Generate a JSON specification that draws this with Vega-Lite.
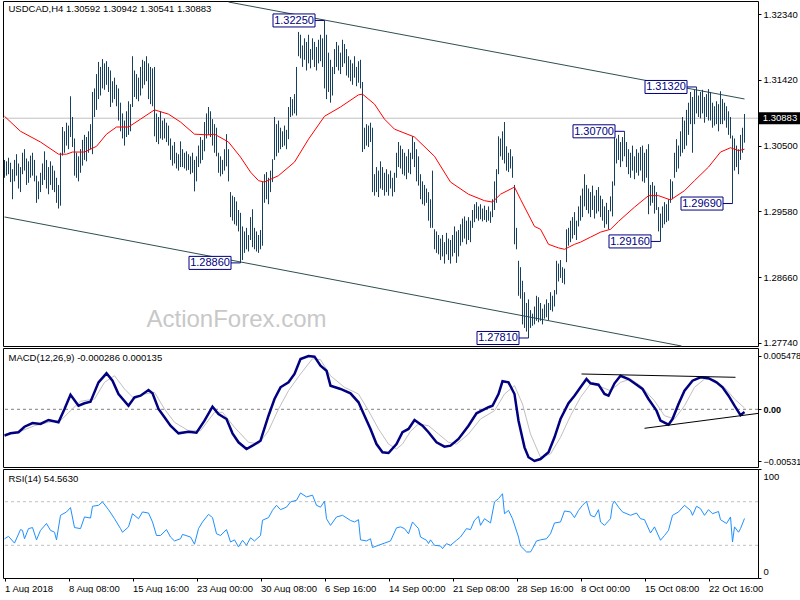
{
"$schema":"https://vega.github.io/schema/vega-lite/v6.json",
"padding":{"left":-1,"top":-1,"right":0,"bottom":0},
"background":"white",
"spacing":2,
"bounds":"flush",
"config":{"view":{"stroke":"black","strokeWidth":1},"axis":{"labelFont":"Liberation Sans","labelFontSize":9.5,"labelColor":"black","domain":false,"grid":false,"tickColor":"black","tickSize":3,"labelPadding":2}},
"datasets":{
"bars":[{"i":0,"h":1.303,"l":1.3005},{"i":1,"h":1.3028,"l":1.3008},{"i":2,"h":1.3033,"l":1.301},{"i":3,"h":1.3026,"l":1.2999},{"i":4,"h":1.3017,"l":1.2975},{"i":5,"h":1.303,"l":1.3},{"i":6,"h":1.3038,"l":1.3008},{"i":7,"h":1.3025,"l":1.299},{"i":8,"h":1.302,"l":1.2985},{"i":9,"h":1.304,"l":1.301},{"i":10,"h":1.3045,"l":1.3015},{"i":11,"h":1.3032,"l":1.2995},{"i":12,"h":1.3028,"l":1.2998},{"i":13,"h":1.3036,"l":1.3005},{"i":14,"h":1.304,"l":1.3008},{"i":15,"h":1.303,"l":1.3},{"i":16,"h":1.3008,"l":1.297},{"i":17,"h":1.3,"l":1.2975},{"i":18,"h":1.3012,"l":1.2985},{"i":19,"h":1.3025,"l":1.2995},{"i":20,"h":1.3042,"l":1.3002},{"i":21,"h":1.303,"l":1.299},{"i":22,"h":1.302,"l":1.2982},{"i":23,"h":1.3028,"l":1.2995},{"i":24,"h":1.3022,"l":1.2988},{"i":25,"h":1.3015,"l":1.2985},{"i":26,"h":1.3005,"l":1.297},{"i":27,"h":1.2995,"l":1.2962},{"i":28,"h":1.304,"l":1.2966},{"i":29,"h":1.3076,"l":1.3036},{"i":30,"h":1.307,"l":1.304},{"i":31,"h":1.3082,"l":1.305},{"i":32,"h":1.3078,"l":1.3045},{"i":33,"h":1.3119,"l":1.3062},{"i":34,"h":1.309,"l":1.3048},{"i":35,"h":1.306,"l":1.3008},{"i":36,"h":1.304,"l":1.3005},{"i":37,"h":1.3035,"l":1.3},{"i":38,"h":1.3045,"l":1.3012},{"i":39,"h":1.3058,"l":1.3022},{"i":40,"h":1.3065,"l":1.303},{"i":41,"h":1.3062,"l":1.3028},{"i":42,"h":1.307,"l":1.304},{"i":43,"h":1.308,"l":1.3045},{"i":44,"h":1.3125,"l":1.3038},{"i":45,"h":1.313,"l":1.309},{"i":46,"h":1.315,"l":1.31},{"i":47,"h":1.3167,"l":1.3115},{"i":48,"h":1.316,"l":1.312},{"i":49,"h":1.3171,"l":1.313},{"i":50,"h":1.3165,"l":1.3128},{"i":51,"h":1.3168,"l":1.3135},{"i":52,"h":1.316,"l":1.3125},{"i":53,"h":1.3155,"l":1.3104},{"i":54,"h":1.314,"l":1.311},{"i":55,"h":1.3145,"l":1.3115},{"i":56,"h":1.3135,"l":1.3105},{"i":57,"h":1.313,"l":1.3085},{"i":58,"h":1.311,"l":1.307},{"i":59,"h":1.3095,"l":1.306},{"i":60,"h":1.3085,"l":1.305},{"i":61,"h":1.3098,"l":1.3062},{"i":62,"h":1.3112,"l":1.3065},{"i":63,"h":1.3108,"l":1.307},{"i":64,"h":1.3175,"l":1.3104},{"i":65,"h":1.3155,"l":1.3118},{"i":66,"h":1.315,"l":1.3115},{"i":67,"h":1.3145,"l":1.3112},{"i":68,"h":1.316,"l":1.312},{"i":69,"h":1.317,"l":1.313},{"i":70,"h":1.3168,"l":1.3135},{"i":71,"h":1.3175,"l":1.314},{"i":72,"h":1.3165,"l":1.3115},{"i":73,"h":1.316,"l":1.3108},{"i":74,"h":1.3158,"l":1.3105},{"i":75,"h":1.316,"l":1.3063},{"i":76,"h":1.3095,"l":1.3055},{"i":77,"h":1.309,"l":1.3052},{"i":78,"h":1.3098,"l":1.306},{"i":79,"h":1.3085,"l":1.3058},{"i":80,"h":1.3088,"l":1.306},{"i":81,"h":1.3082,"l":1.3055},{"i":82,"h":1.3078,"l":1.305},{"i":83,"h":1.306,"l":1.303},{"i":84,"h":1.305,"l":1.3022},{"i":85,"h":1.3055,"l":1.3025},{"i":86,"h":1.304,"l":1.3018},{"i":87,"h":1.3038,"l":1.3015},{"i":88,"h":1.3056,"l":1.302},{"i":89,"h":1.3045,"l":1.302},{"i":90,"h":1.304,"l":1.3018},{"i":91,"h":1.3042,"l":1.3015},{"i":92,"h":1.3038,"l":1.3016},{"i":93,"h":1.3035,"l":1.301},{"i":94,"h":1.304,"l":1.3012},{"i":95,"h":1.303,"l":1.2986},{"i":96,"h":1.3035,"l":1.3},{"i":97,"h":1.305,"l":1.302},{"i":98,"h":1.3062,"l":1.3025},{"i":99,"h":1.3058,"l":1.303},{"i":100,"h":1.3083,"l":1.3042},{"i":101,"h":1.3095,"l":1.306},{"i":102,"h":1.3104,"l":1.3065},{"i":103,"h":1.3098,"l":1.3062},{"i":104,"h":1.3087,"l":1.305},{"i":105,"h":1.308,"l":1.304},{"i":106,"h":1.3075,"l":1.3035},{"i":107,"h":1.304,"l":1.3012},{"i":108,"h":1.3035,"l":1.3007},{"i":109,"h":1.303,"l":1.301},{"i":110,"h":1.3045,"l":1.3015},{"i":111,"h":1.3066,"l":1.3021},{"i":112,"h":1.3045,"l":1.3},{"i":113,"h":1.2985,"l":1.295},{"i":114,"h":1.298,"l":1.2945},{"i":115,"h":1.2978,"l":1.294},{"i":116,"h":1.2972,"l":1.2938},{"i":117,"h":1.296,"l":1.293},{"i":118,"h":1.2956,"l":1.2886},{"i":119,"h":1.2937,"l":1.289},{"i":120,"h":1.293,"l":1.29},{"i":121,"h":1.2935,"l":1.2905},{"i":122,"h":1.2925,"l":1.2902},{"i":123,"h":1.295,"l":1.2918},{"i":124,"h":1.2961,"l":1.2908},{"i":125,"h":1.2935,"l":1.2905},{"i":126,"h":1.293,"l":1.2902},{"i":127,"h":1.2925,"l":1.29},{"i":128,"h":1.2932,"l":1.2905},{"i":129,"h":1.2999,"l":1.291},{"i":130,"h":1.301,"l":1.297},{"i":131,"h":1.3013,"l":1.2975},{"i":132,"h":1.3005,"l":1.2968},{"i":133,"h":1.3015,"l":1.2985},{"i":134,"h":1.3031,"l":1.2999},{"i":135,"h":1.309,"l":1.303},{"i":136,"h":1.308,"l":1.3035},{"i":137,"h":1.3085,"l":1.304},{"i":138,"h":1.3075,"l":1.3045},{"i":139,"h":1.307,"l":1.3048},{"i":140,"h":1.3078,"l":1.305},{"i":141,"h":1.3072,"l":1.3045},{"i":142,"h":1.3104,"l":1.3059},{"i":143,"h":1.3118,"l":1.309},{"i":144,"h":1.3115,"l":1.3092},{"i":145,"h":1.3122,"l":1.3095},{"i":146,"h":1.316,"l":1.3092},{"i":147,"h":1.3209,"l":1.3175},{"i":148,"h":1.3205,"l":1.3172},{"i":149,"h":1.319,"l":1.316},{"i":150,"h":1.32,"l":1.317},{"i":151,"h":1.3195,"l":1.3155},{"i":152,"h":1.3205,"l":1.3165},{"i":153,"h":1.3185,"l":1.3158},{"i":154,"h":1.32,"l":1.317},{"i":155,"h":1.3195,"l":1.316},{"i":156,"h":1.3188,"l":1.3155},{"i":157,"h":1.3198,"l":1.3165},{"i":158,"h":1.3205,"l":1.3168},{"i":159,"h":1.32,"l":1.316},{"i":160,"h":1.3225,"l":1.313},{"i":161,"h":1.3205,"l":1.3115},{"i":162,"h":1.318,"l":1.3125},{"i":163,"h":1.317,"l":1.311},{"i":164,"h":1.316,"l":1.312},{"i":165,"h":1.3185,"l":1.315},{"i":166,"h":1.3195,"l":1.316},{"i":167,"h":1.319,"l":1.3155},{"i":168,"h":1.318,"l":1.315},{"i":169,"h":1.3198,"l":1.316},{"i":170,"h":1.3192,"l":1.3165},{"i":171,"h":1.3185,"l":1.3148},{"i":172,"h":1.3175,"l":1.3145},{"i":173,"h":1.317,"l":1.314},{"i":174,"h":1.3165,"l":1.3135},{"i":175,"h":1.3175,"l":1.3145},{"i":176,"h":1.316,"l":1.3133},{"i":177,"h":1.3168,"l":1.3138},{"i":178,"h":1.317,"l":1.313},{"i":179,"h":1.3139,"l":1.3041},{"i":180,"h":1.3075,"l":1.3045},{"i":181,"h":1.308,"l":1.305},{"i":182,"h":1.3078,"l":1.3048},{"i":183,"h":1.3082,"l":1.3055},{"i":184,"h":1.3075,"l":1.2985},{"i":185,"h":1.301,"l":1.298},{"i":186,"h":1.302,"l":1.2985},{"i":187,"h":1.3015,"l":1.2978},{"i":188,"h":1.3028,"l":1.299},{"i":189,"h":1.302,"l":1.2988},{"i":190,"h":1.3012,"l":1.298},{"i":191,"h":1.3017,"l":1.2985},{"i":192,"h":1.301,"l":1.298},{"i":193,"h":1.3015,"l":1.299},{"i":194,"h":1.3005,"l":1.2979},{"i":195,"h":1.3012,"l":1.2985},{"i":196,"h":1.304,"l":1.3005},{"i":197,"h":1.3055,"l":1.302},{"i":198,"h":1.305,"l":1.3018},{"i":199,"h":1.3045,"l":1.301},{"i":200,"h":1.304,"l":1.3008},{"i":201,"h":1.3035,"l":1.3003},{"i":202,"h":1.3045,"l":1.3012},{"i":203,"h":1.304,"l":1.301},{"i":204,"h":1.3063,"l":1.3031},{"i":205,"h":1.3055,"l":1.302},{"i":206,"h":1.3045,"l":1.3},{"i":207,"h":1.3035,"l":1.2994},{"i":208,"h":1.301,"l":1.2975},{"i":209,"h":1.3,"l":1.2968},{"i":210,"h":1.2995,"l":1.2966},{"i":211,"h":1.299,"l":1.297},{"i":212,"h":1.2985,"l":1.2945},{"i":213,"h":1.2975,"l":1.2935},{"i":214,"h":1.3015,"l":1.2935},{"i":215,"h":1.2933,"l":1.2905},{"i":216,"h":1.293,"l":1.29},{"i":217,"h":1.2925,"l":1.2898},{"i":218,"h":1.292,"l":1.289},{"i":219,"h":1.2925,"l":1.2895},{"i":220,"h":1.2915,"l":1.2885},{"i":221,"h":1.2928,"l":1.2898},{"i":222,"h":1.292,"l":1.289},{"i":223,"h":1.2918,"l":1.2885},{"i":224,"h":1.2925,"l":1.2895},{"i":225,"h":1.2937,"l":1.29},{"i":226,"h":1.293,"l":1.2886},{"i":227,"h":1.2932,"l":1.2895},{"i":228,"h":1.294,"l":1.291},{"i":229,"h":1.2948,"l":1.2915},{"i":230,"h":1.2951,"l":1.292},{"i":231,"h":1.2945,"l":1.2912},{"i":232,"h":1.295,"l":1.2918},{"i":233,"h":1.2945,"l":1.2915},{"i":234,"h":1.296,"l":1.2935},{"i":235,"h":1.2968,"l":1.2943},{"i":236,"h":1.2971,"l":1.2948},{"i":237,"h":1.2965,"l":1.2945},{"i":238,"h":1.2968,"l":1.2947},{"i":239,"h":1.2962,"l":1.2944},{"i":240,"h":1.2966,"l":1.2946},{"i":241,"h":1.296,"l":1.2943},{"i":242,"h":1.2965,"l":1.2945},{"i":243,"h":1.2958,"l":1.2942},{"i":244,"h":1.2975,"l":1.295},{"i":245,"h":1.3,"l":1.296},{"i":246,"h":1.3017,"l":1.297},{"i":247,"h":1.3063,"l":1.301},{"i":248,"h":1.306,"l":1.3035},{"i":249,"h":1.307,"l":1.303},{"i":250,"h":1.3083,"l":1.3025},{"i":251,"h":1.3049,"l":1.3015},{"i":252,"h":1.304,"l":1.3013},{"i":253,"h":1.3045,"l":1.3018},{"i":254,"h":1.3035,"l":1.3005},{"i":255,"h":1.2995,"l":1.2912},{"i":256,"h":1.2935,"l":1.2905},{"i":257,"h":1.2889,"l":1.284},{"i":258,"h":1.288,"l":1.2836},{"i":259,"h":1.2861,"l":1.28},{"i":260,"h":1.2845,"l":1.2795},{"i":261,"h":1.283,"l":1.279},{"i":262,"h":1.2835,"l":1.2781},{"i":263,"h":1.282,"l":1.2795},{"i":264,"h":1.2815,"l":1.2798},{"i":265,"h":1.2825,"l":1.28},{"i":266,"h":1.284,"l":1.2805},{"i":267,"h":1.2838,"l":1.2803},{"i":268,"h":1.283,"l":1.2805},{"i":269,"h":1.2822,"l":1.28},{"i":270,"h":1.2828,"l":1.2808},{"i":271,"h":1.2835,"l":1.281},{"i":272,"h":1.283,"l":1.2806},{"i":273,"h":1.2845,"l":1.282},{"i":274,"h":1.284,"l":1.2818},{"i":275,"h":1.2848,"l":1.2825},{"i":276,"h":1.2889,"l":1.2842},{"i":277,"h":1.2885,"l":1.286},{"i":278,"h":1.289,"l":1.2865},{"i":279,"h":1.288,"l":1.2858},{"i":280,"h":1.2878,"l":1.2856},{"i":281,"h":1.2933,"l":1.2887},{"i":282,"h":1.2935,"l":1.291},{"i":283,"h":1.2945,"l":1.2915},{"i":284,"h":1.295,"l":1.292},{"i":285,"h":1.2957,"l":1.2925},{"i":286,"h":1.2945,"l":1.2918},{"i":287,"h":1.2965,"l":1.2937},{"i":288,"h":1.298,"l":1.2945},{"i":289,"h":1.299,"l":1.295},{"i":290,"h":1.301,"l":1.2965},{"i":291,"h":1.2995,"l":1.296},{"i":292,"h":1.299,"l":1.2955},{"i":293,"h":1.2985,"l":1.295},{"i":294,"h":1.2994,"l":1.296},{"i":295,"h":1.298,"l":1.2948},{"i":296,"h":1.2988,"l":1.2955},{"i":297,"h":1.2992,"l":1.2958},{"i":298,"h":1.298,"l":1.295},{"i":299,"h":1.2975,"l":1.2945},{"i":300,"h":1.2965,"l":1.2935},{"i":301,"h":1.297,"l":1.294},{"i":302,"h":1.296,"l":1.2933},{"i":303,"h":1.2979,"l":1.2958},{"i":304,"h":1.3,"l":1.2951},{"i":305,"h":1.3069,"l":1.2994},{"i":306,"h":1.306,"l":1.3025},{"i":307,"h":1.3065,"l":1.303},{"i":308,"h":1.3055,"l":1.302},{"i":309,"h":1.3062,"l":1.3028},{"i":310,"h":1.307,"l":1.3035},{"i":311,"h":1.3055,"l":1.302},{"i":312,"h":1.3045,"l":1.301},{"i":313,"h":1.304,"l":1.3005},{"i":314,"h":1.305,"l":1.3015},{"i":315,"h":1.3035,"l":1.3003},{"i":316,"h":1.3045,"l":1.3012},{"i":317,"h":1.304,"l":1.3008},{"i":318,"h":1.3048,"l":1.3015},{"i":319,"h":1.305,"l":1.3},{"i":320,"h":1.304,"l":1.2998},{"i":321,"h":1.3045,"l":1.3005},{"i":322,"h":1.3052,"l":1.2954},{"i":323,"h":1.2995,"l":1.2966},{"i":324,"h":1.2999,"l":1.297},{"i":325,"h":1.2994,"l":1.2955},{"i":326,"h":1.2985,"l":1.296},{"i":327,"h":1.2964,"l":1.293},{"i":328,"h":1.2955,"l":1.2916},{"i":329,"h":1.2965,"l":1.2935},{"i":330,"h":1.2971,"l":1.294},{"i":331,"h":1.2968,"l":1.2943},{"i":332,"h":1.2975,"l":1.2945},{"i":333,"h":1.3003,"l":1.297},{"i":334,"h":1.3,"l":1.2975},{"i":335,"h":1.304,"l":1.3005},{"i":336,"h":1.3059,"l":1.3013},{"i":337,"h":1.305,"l":1.3018},{"i":338,"h":1.307,"l":1.3035},{"i":339,"h":1.309,"l":1.304},{"i":340,"h":1.3085,"l":1.3045},{"i":341,"h":1.31,"l":1.305},{"i":342,"h":1.311,"l":1.3065},{"i":343,"h":1.3125,"l":1.308},{"i":344,"h":1.3118,"l":1.304},{"i":345,"h":1.3128,"l":1.308},{"i":346,"h":1.3132,"l":1.3095},{"i":347,"h":1.312,"l":1.309},{"i":348,"h":1.3125,"l":1.3088},{"i":349,"h":1.3128,"l":1.3095},{"i":350,"h":1.3118,"l":1.3082},{"i":351,"h":1.3122,"l":1.309},{"i":352,"h":1.3129,"l":1.3085},{"i":353,"h":1.3125,"l":1.3085},{"i":354,"h":1.311,"l":1.3075},{"i":355,"h":1.3105,"l":1.3078},{"i":356,"h":1.3112,"l":1.308},{"i":357,"h":1.3108,"l":1.307},{"i":358,"h":1.3126,"l":1.308},{"i":359,"h":1.3115,"l":1.308},{"i":360,"h":1.311,"l":1.3085},{"i":361,"h":1.3105,"l":1.3075},{"i":362,"h":1.3098,"l":1.3065},{"i":363,"h":1.309,"l":1.306},{"i":364,"h":1.3064,"l":1.2969},{"i":365,"h":1.306,"l":1.3015},{"i":366,"h":1.305,"l":1.302},{"i":367,"h":1.3045,"l":1.301},{"i":368,"h":1.3065,"l":1.303},{"i":369,"h":1.3075,"l":1.304},{"i":370,"h":1.30942,"l":1.30541}],
"ma":[{"i":0,"p":1.3091},{"i":8,"p":1.307},{"i":18,"p":1.3055},{"i":27,"p":1.3038},{"i":31,"p":1.3038},{"i":34,"p":1.3041},{"i":40,"p":1.3041},{"i":46,"p":1.3049},{"i":51,"p":1.3066},{"i":56,"p":1.3076},{"i":62,"p":1.3076},{"i":68,"p":1.3087},{"i":75,"p":1.31},{"i":82,"p":1.3094},{"i":88,"p":1.3083},{"i":95,"p":1.3066},{"i":102,"p":1.3065},{"i":105,"p":1.3066},{"i":112,"p":1.3055},{"i":118,"p":1.3034},{"i":123,"p":1.3013},{"i":127,"p":1.3001},{"i":130,"p":1.2999},{"i":137,"p":1.3008},{"i":145,"p":1.3027},{"i":152,"p":1.3059},{"i":160,"p":1.3091},{"i":168,"p":1.3104},{"i":177,"p":1.3121},{"i":179,"p":1.3122},{"i":185,"p":1.3108},{"i":190,"p":1.3087},{"i":195,"p":1.3073},{"i":205,"p":1.3062},{"i":215,"p":1.3035},{"i":223,"p":1.2999},{"i":232,"p":1.2982},{"i":240,"p":1.2973},{"i":244,"p":1.2971},{"i":248,"p":1.2982},{"i":255,"p":1.2992},{"i":258,"p":1.2975},{"i":265,"p":1.2937},{"i":268,"p":1.2933},{"i":272,"p":1.2912},{"i":277,"p":1.2907},{"i":280,"p":1.2905},{"i":285,"p":1.2912},{"i":288,"p":1.2915},{"i":293,"p":1.2922},{"i":298,"p":1.2929},{"i":303,"p":1.2933},{"i":307,"p":1.2944},{"i":315,"p":1.2964},{"i":322,"p":1.298},{"i":327,"p":1.298},{"i":333,"p":1.2974},{"i":340,"p":1.2987},{"i":345,"p":1.3001},{"i":352,"p":1.302},{"i":358,"p":1.3041},{"i":363,"p":1.3047},{"i":367,"p":1.3043},{"i":370,"p":1.3045}],
"ch":[{"i":112,"p":1.32508,"g":"u"},{"i":370,"p":1.31152,"g":"u"},{"i":0,"p":1.29502,"g":"d"},{"i":338.5,"p":1.27698,"g":"d"}],
"lab":[{"i":160,"p":1.3225,"t":"1.32250"},{"i":346,"p":1.3132,"t":"1.31320"},{"i":310,"p":1.307,"t":"1.30700"},{"i":364,"p":1.2969,"t":"1.29690"},{"i":328,"p":1.2916,"t":"1.29160"},{"i":118,"p":1.2886,"t":"1.28860"},{"i":262,"p":1.2781,"t":"1.27810"}],
"macd":[{"i":0,"m":-0.00271},{"i":3,"m":-0.00247},{"i":7,"m":-0.00236},{"i":10,"m":-0.00179},{"i":14,"m":-0.00141},{"i":18,"m":-0.00151},{"i":22,"m":-0.0011},{"i":27,"m":-0.00134},{"i":30,"m":0.00003},{"i":33,"m":0.0015},{"i":37,"m":0.00037},{"i":40,"m":0.00062},{"i":43,"m":0.00078},{"i":47,"m":0.00277},{"i":51,"m":0.0037},{"i":54,"m":0.00294},{"i":57,"m":0.00157},{"i":62,"m":0.00037},{"i":65,"m":0.00123},{"i":68,"m":0.0014},{"i":72,"m":0.00198},{"i":74,"m":0.00164},{"i":77,"m":0.00003},{"i":80,"m":-0.00082},{"i":83,"m":-0.00169},{"i":87,"m":-0.00247},{"i":92,"m":-0.0023},{"i":96,"m":-0.0024},{"i":100,"m":-0.00117},{"i":104,"m":0.00027},{"i":107,"m":-0.00048},{"i":111,"m":-0.001},{"i":114,"m":-0.00247},{"i":117,"m":-0.00339},{"i":121,"m":-0.00408},{"i":124,"m":-0.00374},{"i":128,"m":-0.00323},{"i":132,"m":-0.00066},{"i":135,"m":0.00106},{"i":138,"m":0.00226},{"i":142,"m":0.00277},{"i":145,"m":0.00363},{"i":148,"m":0.00517},{"i":152,"m":0.00548},{"i":155,"m":0.00541},{"i":158,"m":0.00448},{"i":161,"m":0.00397},{"i":163,"m":0.00243},{"i":168,"m":0.00209},{"i":173,"m":0.00164},{"i":177,"m":0.00072},{"i":180,"m":-0.00066},{"i":183,"m":-0.00202},{"i":186,"m":-0.00357},{"i":189,"m":-0.00442},{"i":192,"m":-0.00449},{"i":196,"m":-0.00357},{"i":199,"m":-0.00236},{"i":202,"m":-0.00202},{"i":205,"m":-0.0011},{"i":209,"m":-0.00169},{"i":212,"m":-0.00236},{"i":216,"m":-0.00339},{"i":220,"m":-0.00384},{"i":223,"m":-0.00374},{"i":227,"m":-0.00305},{"i":232,"m":-0.00169},{"i":236,"m":-0.00041},{"i":242,"m":0.00021},{"i":244,"m":0.00037},{"i":247,"m":0.00157},{"i":249,"m":0.00288},{"i":252,"m":0.00277},{"i":255,"m":0.00157},{"i":257,"m":-0.00117},{"i":260,"m":-0.00391},{"i":262,"m":-0.00493},{"i":265,"m":-0.00531},{"i":268,"m":-0.00511},{"i":272,"m":-0.00442},{"i":275,"m":-0.00288},{"i":278,"m":-0.001},{"i":282,"m":0.00062},{"i":285,"m":0.0014},{"i":288,"m":0.00226},{"i":291,"m":0.00311},{"i":293,"m":0.00267},{"i":297,"m":0.00253},{"i":300,"m":0.00157},{"i":302,"m":0.0014},{"i":305,"m":0.00267},{"i":308,"m":0.00345},{"i":312,"m":0.00311},{"i":315,"m":0.00267},{"i":319,"m":0.00209},{"i":322,"m":0.00106},{"i":326,"m":-0.00014},{"i":328,"m":-0.00117},{"i":332,"m":-0.00158},{"i":334,"m":-0.001},{"i":337,"m":0.00054},{"i":340,"m":0.00191},{"i":344,"m":0.00294},{"i":348,"m":0.00329},{"i":352,"m":0.00319},{"i":356,"m":0.00277},{"i":359,"m":0.00226},{"i":362,"m":0.0014},{"i":365,"m":0.00037},{"i":368,"m":-0.0006},{"i":370,"m":-0.000286}],
"sig":[{"i":0,"s":-0.00254},{"i":8,"s":-0.00226},{"i":15,"s":-0.00169},{"i":22,"s":-0.00134},{"i":28,"s":-0.00117},{"i":33,"s":-0.00014},{"i":38,"s":0.00082},{"i":45,"s":0.00106},{"i":50,"s":0.00277},{"i":55,"s":0.00345},{"i":60,"s":0.00209},{"i":65,"s":0.00106},{"i":70,"s":0.00157},{"i":75,"s":0.00175},{"i":80,"s":0.00003},{"i":85,"s":-0.00134},{"i":92,"s":-0.0022},{"i":98,"s":-0.0022},{"i":105,"s":-0.00031},{"i":109,"s":-0.00031},{"i":115,"s":-0.00185},{"i":122,"s":-0.00339},{"i":127,"s":-0.00357},{"i":132,"s":-0.0022},{"i":137,"s":0.00003},{"i":142,"s":0.00191},{"i":148,"s":0.00363},{"i":154,"s":0.0052},{"i":158,"s":0.0051},{"i":163,"s":0.00345},{"i":170,"s":0.00226},{"i":177,"s":0.00157},{"i":182,"s":-0.00014},{"i":187,"s":-0.00202},{"i":192,"s":-0.00357},{"i":196,"s":-0.00408},{"i":199,"s":-0.00357},{"i":203,"s":-0.00226},{"i":207,"s":-0.00151},{"i":212,"s":-0.00169},{"i":217,"s":-0.00254},{"i":222,"s":-0.00339},{"i":226,"s":-0.00357},{"i":232,"s":-0.00254},{"i":238,"s":-0.001},{"i":245,"s":-0.00014},{"i":250,"s":0.00157},{"i":255,"s":0.00243},{"i":259,"s":0.00054},{"i":263,"s":-0.00254},{"i":268,"s":-0.00493},{"i":273,"s":-0.00459},{"i":278,"s":-0.00288},{"i":283,"s":-0.00066},{"i":288,"s":0.00123},{"i":293,"s":0.0026},{"i":298,"s":0.00232},{"i":303,"s":0.00191},{"i":308,"s":0.00277},{"i":313,"s":0.00311},{"i":318,"s":0.00243},{"i":325,"s":0.00088},{"i":330,"s":-0.00066},{"i":335,"s":-0.001},{"i":340,"s":0.00037},{"i":345,"s":0.00226},{"i":350,"s":0.00311},{"i":355,"s":0.00301},{"i":360,"s":0.00226},{"i":365,"s":0.00106},{"i":370,"s":0.000135}],
"mt":[{"i":288.5,"v":0.003628,"g":"a"},{"i":365.5,"v":0.003289,"g":"a"},{"i":320,"v":-0.001953,"g":"b"},{"i":376.75,"v":-0.000423,"g":"b"}],
"rsi":[{"i":0,"r":36},{"i":2,"r":38.2},{"i":5,"r":32},{"i":8,"r":44.4},{"i":9,"r":43.7},{"i":10,"r":36},{"i":12,"r":45.3},{"i":14,"r":46.3},{"i":16,"r":35},{"i":18,"r":43.7},{"i":21,"r":50},{"i":23,"r":43.7},{"i":25,"r":42},{"i":26,"r":35},{"i":28,"r":57.5},{"i":31,"r":60.6},{"i":33,"r":64.6},{"i":35,"r":46.3},{"i":38,"r":45.3},{"i":40,"r":56},{"i":43,"r":55},{"i":44,"r":65.8},{"i":47,"r":66.7},{"i":49,"r":69.8},{"i":52,"r":62.7},{"i":55,"r":54.4},{"i":58,"r":45.3},{"i":59,"r":42},{"i":62,"r":46.9},{"i":64,"r":59},{"i":67,"r":54.4},{"i":69,"r":60.6},{"i":72,"r":59.6},{"i":74,"r":51.4},{"i":76,"r":39},{"i":78,"r":39},{"i":81,"r":44.4},{"i":83,"r":37.6},{"i":85,"r":34},{"i":88,"r":36},{"i":89,"r":40},{"i":93,"r":37.6},{"i":95,"r":31},{"i":97,"r":45.3},{"i":99,"r":51.4},{"i":102,"r":58.4},{"i":104,"r":55.4},{"i":106,"r":40.6},{"i":108,"r":39},{"i":111,"r":44.4},{"i":113,"r":33},{"i":115,"r":35},{"i":117,"r":28.5},{"i":119,"r":34.6},{"i":121,"r":30},{"i":123,"r":36.9},{"i":125,"r":34},{"i":128,"r":39},{"i":129,"r":53},{"i":132,"r":55.4},{"i":134,"r":62.1},{"i":136,"r":66.7},{"i":138,"r":62.7},{"i":141,"r":65},{"i":143,"r":69.8},{"i":146,"r":71.3},{"i":148,"r":78},{"i":151,"r":74.4},{"i":154,"r":76},{"i":156,"r":66.7},{"i":158,"r":65},{"i":160,"r":70.4},{"i":161,"r":54.4},{"i":163,"r":48.3},{"i":166,"r":56},{"i":169,"r":57.5},{"i":173,"r":52.8},{"i":175,"r":51.4},{"i":177,"r":53.5},{"i":178,"r":35},{"i":181,"r":34},{"i":183,"r":36},{"i":184,"r":28},{"i":187,"r":30},{"i":190,"r":32},{"i":193,"r":34},{"i":196,"r":46},{"i":198,"r":46.9},{"i":200,"r":45.3},{"i":202,"r":40.6},{"i":204,"r":51.4},{"i":207,"r":45.3},{"i":208,"r":37.6},{"i":211,"r":34.6},{"i":212,"r":31.6},{"i":213,"r":35},{"i":215,"r":30},{"i":218,"r":29.4},{"i":219,"r":27},{"i":221,"r":31.5},{"i":223,"r":30},{"i":226,"r":34.6},{"i":228,"r":37.6},{"i":231,"r":45.3},{"i":233,"r":44.4},{"i":235,"r":53},{"i":237,"r":56.6},{"i":238,"r":48.3},{"i":240,"r":54.4},{"i":243,"r":50.5},{"i":245,"r":69.8},{"i":247,"r":72.8},{"i":249,"r":77.3},{"i":250,"r":59},{"i":252,"r":62},{"i":254,"r":54.4},{"i":257,"r":37.6},{"i":258,"r":29.4},{"i":261,"r":23.9},{"i":263,"r":23.9},{"i":264,"r":27},{"i":266,"r":34},{"i":268,"r":35},{"i":271,"r":36},{"i":273,"r":40.6},{"i":275,"r":50.5},{"i":278,"r":51.4},{"i":280,"r":61.5},{"i":283,"r":60.6},{"i":285,"r":55.4},{"i":287,"r":62},{"i":289,"r":66.7},{"i":291,"r":70.4},{"i":293,"r":57.5},{"i":295,"r":56},{"i":297,"r":62.7},{"i":298,"r":51.4},{"i":300,"r":48.3},{"i":303,"r":54.4},{"i":304,"r":67.6},{"i":305,"r":70.4},{"i":307,"r":65},{"i":309,"r":60.6},{"i":313,"r":57.5},{"i":316,"r":59.6},{"i":318,"r":54.4},{"i":320,"r":53.5},{"i":323,"r":41.3},{"i":325,"r":46.9},{"i":328,"r":34.6},{"i":330,"r":39},{"i":332,"r":43.7},{"i":334,"r":57.5},{"i":337,"r":60.6},{"i":340,"r":66.7},{"i":343,"r":62},{"i":344,"r":57.5},{"i":346,"r":65.8},{"i":348,"r":63.6},{"i":350,"r":57.5},{"i":352,"r":62.7},{"i":354,"r":59},{"i":357,"r":61},{"i":358,"r":53.5},{"i":361,"r":50},{"i":363,"r":56},{"i":364,"r":33},{"i":365,"r":46.9},{"i":367,"r":42},{"i":368,"r":45.3},{"i":370,"r":54.563}]
},
"vconcat":[
{"width":755,"height":345,
"layer":[
{"data":{"name":"ch"},"mark":{"type":"line","color":"#2f4f4f","strokeWidth":1},"encoding":{"x":{"field":"i","type":"quantitative","scale":{"domain":[-0.75,376.75],"nice":false,"zero":false},"axis":null},"y":{"field":"p","type":"quantitative","scale":{"domain":[1.27698,1.32522],"nice":false,"zero":false},"axis":{"orient":"right","values":[1.2774,1.282,1.2866,1.2912,1.2958,1.3004,1.305,1.3096,1.3142,1.3188,1.3234],"format":".5f","title":null}},"detail":{"field":"g"}}},
{"data":{"values":[{"p":1.30883}]},"mark":{"type":"rule","color":"#c0c0c0","strokeWidth":1},"encoding":{"y":{"field":"p","type":"quantitative","scale":{"domain":[1.27698,1.32522],"nice":false,"zero":false}}}},
{"data":{"name":"bars"},"mark":{"type":"rule","color":"#17405e","strokeWidth":1,"strokeCap":"butt"},"encoding":{"x":{"field":"i","type":"quantitative","scale":{"domain":[-0.75,376.75],"nice":false,"zero":false},"axis":null},"y":{"field":"h","type":"quantitative","scale":{"domain":[1.27698,1.32522],"nice":false,"zero":false}},"y2":{"field":"l"}}},
{"data":{"name":"ma"},"mark":{"type":"line","color":"#ff0000","strokeWidth":1},"encoding":{"x":{"field":"i","type":"quantitative","scale":{"domain":[-0.75,376.75],"nice":false,"zero":false},"axis":null},"y":{"field":"p","type":"quantitative","scale":{"domain":[1.27698,1.32522],"nice":false,"zero":false}}}},
{"data":{"values":[{"t":"ActionForex.com"}]},"mark":{"type":"text","font":"Liberation Sans","fontSize":24,"color":"#c8c8c8","align":"center","baseline":"middle"},"encoding":{"x":{"datum":116,"type":"quantitative","scale":{"domain":[-0.75,376.75],"nice":false,"zero":false},"axis":null},"y":{"datum":1.2806,"type":"quantitative","scale":{"domain":[1.27698,1.32522],"nice":false,"zero":false}},"text":{"field":"t"}}},
{"data":{"name":"lab"},"mark":{"type":"rule","color":"#000080","strokeWidth":1,"xOffset":-10},"encoding":{"x":{"field":"i","type":"quantitative","scale":{"domain":[-0.75,376.75],"nice":false,"zero":false},"axis":null},"x2":{"field":"i"},"y":{"field":"p","type":"quantitative","scale":{"domain":[1.27698,1.32522],"nice":false,"zero":false}}}},
{"data":{"name":"lab"},"mark":{"type":"point","shape":"M-1,-0.31L1,-0.31L1,0.31L-1,0.31Z","size":1764,"filled":true,"fill":"white","stroke":"#000080","strokeWidth":1,"opacity":1,"fillOpacity":1,"strokeOpacity":1,"xOffset":-30.5},"encoding":{"x":{"field":"i","type":"quantitative","scale":{"domain":[-0.75,376.75],"nice":false,"zero":false},"axis":null},"y":{"field":"p","type":"quantitative","scale":{"domain":[1.27698,1.32522],"nice":false,"zero":false}}}},
{"data":{"name":"lab"},"mark":{"type":"text","font":"Liberation Sans","fontSize":11,"color":"#000080","align":"center","baseline":"middle","xOffset":-30.5,"dy":0.5},"encoding":{"x":{"field":"i","type":"quantitative","scale":{"domain":[-0.75,376.75],"nice":false,"zero":false},"axis":null},"y":{"field":"p","type":"quantitative","scale":{"domain":[1.27698,1.32522],"nice":false,"zero":false}},"text":{"field":"t"}}},
{"data":{"values":[{"t":"USDCAD,H4  1.30592 1.30942 1.30541 1.30883"}]},"mark":{"type":"text","font":"Liberation Sans","fontSize":9.5,"color":"black","align":"left","baseline":"middle"},"encoding":{"x":{"datum":2,"type":"quantitative","scale":{"domain":[-0.75,376.75],"nice":false,"zero":false},"axis":null},"y":{"datum":1.3241,"type":"quantitative","scale":{"domain":[1.27698,1.32522],"nice":false,"zero":false}},"text":{"field":"t"}}},
{"data":{"values":[{"t":"1.30883"}]},"mark":{"type":"point","shape":"M-1,-0.29L1,-0.29L1,0.29L-1,0.29Z","size":1764,"filled":true,"fill":"black","strokeWidth":0,"opacity":1,"fillOpacity":1,"xOffset":22},"encoding":{"x":{"datum":376.75,"type":"quantitative","scale":{"domain":[-0.75,376.75],"nice":false,"zero":false},"axis":null},"y":{"datum":1.30883,"type":"quantitative","scale":{"domain":[1.27698,1.32522],"nice":false,"zero":false}}}},
{"data":{"values":[{"t":"1.30883"}]},"mark":{"type":"text","font":"Liberation Sans","fontSize":9.5,"color":"white","align":"center","baseline":"middle","xOffset":22},"encoding":{"x":{"datum":376.75,"type":"quantitative","scale":{"domain":[-0.75,376.75],"nice":false,"zero":false},"axis":null},"y":{"datum":1.30883,"type":"quantitative","scale":{"domain":[1.27698,1.32522],"nice":false,"zero":false}},"text":{"field":"t"}}}
]},
{"width":755,"height":119,
"layer":[
{"data":{"values":[{"z":0}]},"mark":{"type":"rule","color":"#808080","strokeWidth":1,"strokeDash":[3,3]},"encoding":{"y":{"field":"z","type":"quantitative","scale":{"domain":[-0.00593,0.0063],"nice":false,"zero":false},"axis":{"orient":"right","values":[0.005478,0,-0.005314],"labelFontSize":9,"labelExpr":"datum.value==0?'0.00':format(datum.value,'.6f')","labelFontWeight":{"condition":{"test":"datum.value==0","value":"bold"},"value":"normal"},"title":null}}}},
{"data":{"name":"sig"},"mark":{"type":"line","color":"#c0c0c0","strokeWidth":1},"encoding":{"x":{"field":"i","type":"quantitative","scale":{"domain":[-0.75,376.75],"nice":false,"zero":false},"axis":null},"y":{"field":"s","type":"quantitative","scale":{"domain":[-0.00593,0.0063],"nice":false,"zero":false}}}},
{"data":{"name":"macd"},"mark":{"type":"line","color":"#000080","strokeWidth":2.5},"encoding":{"x":{"field":"i","type":"quantitative","scale":{"domain":[-0.75,376.75],"nice":false,"zero":false},"axis":null},"y":{"field":"m","type":"quantitative","scale":{"domain":[-0.00593,0.0063],"nice":false,"zero":false}}}},
{"data":{"name":"mt"},"mark":{"type":"line","color":"black","strokeWidth":1},"encoding":{"x":{"field":"i","type":"quantitative","scale":{"domain":[-0.75,376.75],"nice":false,"zero":false},"axis":null},"y":{"field":"v","type":"quantitative","scale":{"domain":[-0.00593,0.0063],"nice":false,"zero":false}},"detail":{"field":"g"}}},
{"data":{"values":[{"t":"MACD(12,26,9) -0.000286 0.000135"}]},"mark":{"type":"text","font":"Liberation Sans","fontSize":9.5,"color":"black","align":"left","baseline":"middle"},"encoding":{"x":{"datum":2,"type":"quantitative","scale":{"domain":[-0.75,376.75],"nice":false,"zero":false},"axis":null},"y":{"datum":0.00527,"type":"quantitative","scale":{"domain":[-0.00593,0.0063],"nice":false,"zero":false}},"text":{"field":"t"}}}
]},
{"width":755,"height":109,
"layer":[
{"data":{"values":[{"r":30},{"r":70}]},"mark":{"type":"rule","color":"#c0c0c0","strokeWidth":1,"strokeDash":[3,3]},"encoding":{"y":{"field":"r","type":"quantitative","scale":{"domain":[0,100],"nice":false,"zero":false},"axis":{"orient":"right","values":[0,30,70,100],"labelFlush":true,"labelFlushOffset":-2,"title":null}}}},
{"data":{"name":"rsi"},"mark":{"type":"line","color":"#1e90ff","strokeWidth":1},"encoding":{"x":{"field":"i","type":"quantitative","scale":{"domain":[-0.75,376.75],"nice":false,"zero":false},"axis":{"values":[0,32,64,96,128,160,192,224,256,288,320,352],"labelExpr":"['1 Aug 2018','8 Aug 08:00','15 Aug 16:00','23 Aug 00:00','30 Aug 08:00','6 Sep 16:00','14 Sep 00:00','21 Sep 08:00','28 Sep 16:00','8 Oct 00:00','15 Oct 08:00','22 Oct 16:00'][round(datum.value/32)]","labelAlign":"left","labelPadding":2,"tickSize":3,"labelOverlap":false,"labelBound":false,"title":null}},"y":{"field":"r","type":"quantitative","scale":{"domain":[0,100],"nice":false,"zero":false}}}},
{"data":{"values":[{"t":"RSI(14) 54.5630"}]},"mark":{"type":"text","font":"Liberation Sans","fontSize":9.5,"color":"black","align":"left","baseline":"middle"},"encoding":{"x":{"datum":2,"type":"quantitative","scale":{"domain":[-0.75,376.75],"nice":false,"zero":false}},"y":{"datum":90.8,"type":"quantitative","scale":{"domain":[0,100],"nice":false,"zero":false}},"text":{"field":"t"}}}
]}
]
}
